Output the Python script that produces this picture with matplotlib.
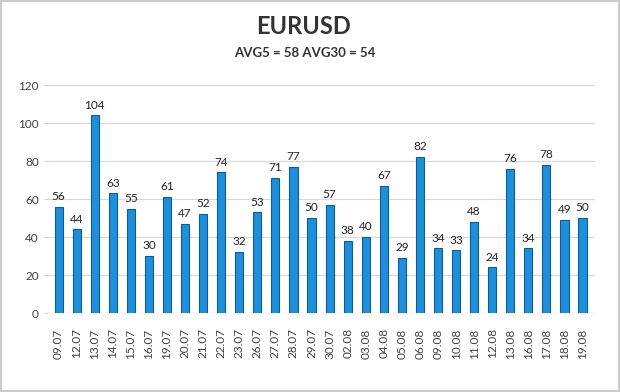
import matplotlib.pyplot as plt
from matplotlib.patches import Rectangle

# Daily volatility values (points) for EURUSD
dates = ['09.07', '12.07', '13.07', '14.07', '15.07', '16.07', '19.07', '20.07',
         '21.07', '22.07', '23.07', '26.07', '27.07', '28.07', '29.07', '30.07',
         '02.08', '03.08', '04.08', '05.08', '06.08', '09.08', '10.08', '11.08',
         '12.08', '13.08', '16.08', '17.08', '18.08', '19.08']
values = [56, 44, 104, 63, 55, 30, 61, 47, 52, 74, 32, 53, 71, 77, 50, 57,
          38, 40, 67, 29, 82, 34, 33, 48, 24, 76, 34, 78, 49, 50]
yticks = [0, 20, 40, 60, 80, 100, 120]

plt.rcParams['font.family'] = ['Lato', 'DejaVu Sans']

fig = plt.figure(figsize=(6.2, 3.92), dpi=100)
ax = fig.add_axes([0.077, 0.2015, 0.883, 0.5815])

x = range(len(values))
ax.bar(x, values, width=0.45, color='#1e8fd8', edgecolor='#0b5d9a', linewidth=0.8, zorder=3)

for i, v in zip(x, values):
    ax.text(i, v + 2.5, str(v), ha='center', va='bottom', fontsize=8.5, color='#222222', zorder=4)

ax.set_xlim(-0.6, 29.7)
ax.set_ylim(0, 120)
ax.set_yticks(yticks)
ax.set_xticks(list(x))
ax.set_xticklabels(dates, rotation=90, fontsize=8.5, color='#404040')
ax.tick_params(axis='y', labelsize=8.5, colors='#404040', length=3, color='#d0d0d0')
ax.tick_params(axis='x', length=0, pad=11)
ax.grid(axis='y', color='#d9d9d9', linewidth=0.9, zorder=0)
for s in ax.spines.values():
    s.set_visible(False)

fig.text(0.49, 0.932, 'EURUSD', ha='center', va='center', fontsize=17,
         fontweight='bold', color='#333333')
fig.text(0.492, 0.865, 'AVG5 = 58 AVG30 = 54', ha='center', va='center', fontsize=9.5,
         fontweight='bold', color='#333333')

# light frame around the picture
fig.patches.append(Rectangle((0.002, 0.003), 0.996, 0.994, transform=fig.transFigure,
                             fill=False, edgecolor='#cccccc', linewidth=1.5))

fig.savefig('out.png', dpi=100)
